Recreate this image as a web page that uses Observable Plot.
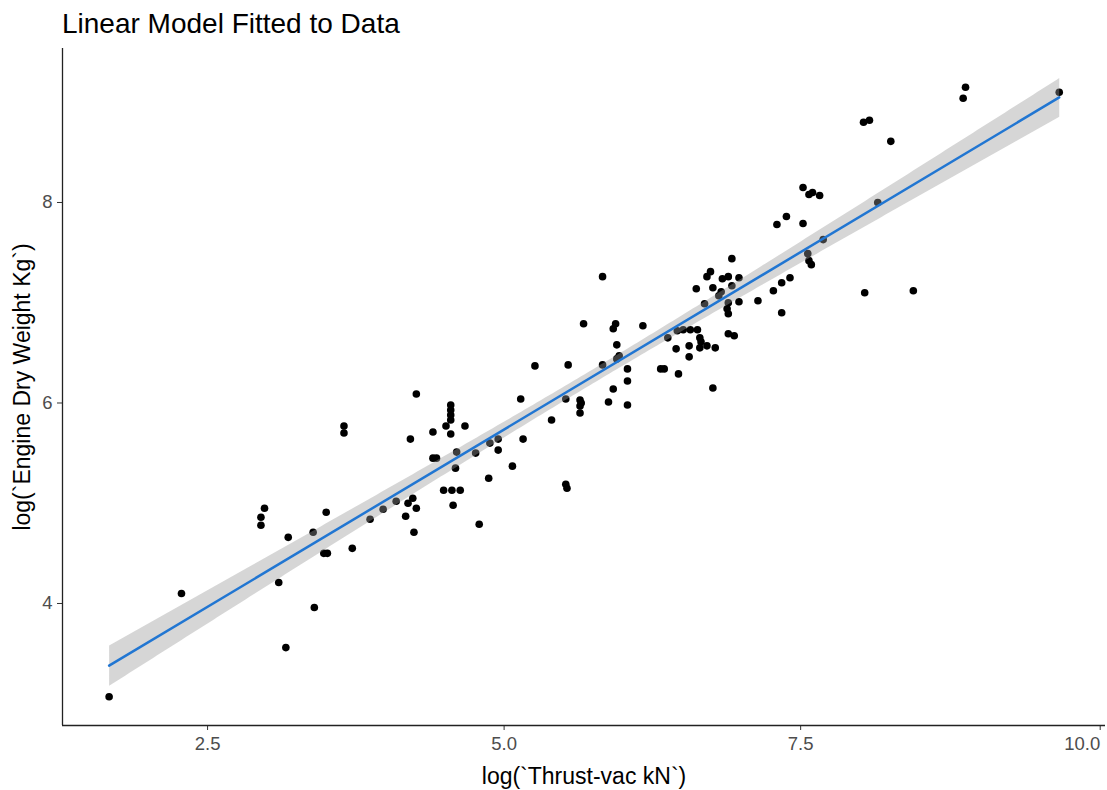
<!DOCTYPE html>
<html>
<head>
<meta charset="utf-8">
<script src="https://cdn.jsdelivr.net/npm/d3@7"></script>
<script src="https://cdn.jsdelivr.net/npm/@observablehq/plot@0.6"></script>
<style>
  html, body { margin: 0; padding: 0; background: #fff; }
  #title { height: 40px; box-sizing: border-box; padding: 4px 0 0 62px; font: 28px/40px "Liberation Sans", Arial, sans-serif; color: #000; white-space: nowrap; }
  g[aria-label="x-axis tick label"] text, g[aria-label="y-axis tick label"] text { fill: #4d4d4d; }
</style>
</head>
<body>
<div id="title">Linear Model Fitted to Data</div>
<div id="chart"></div>
<script>
const titleText = "Linear Model Fitted to Data";
const xLabel = "log(`Thrust-vac kN`)";
const yLabel = "log(`Engine Dry Weight Kg`)";
const xTicks = [2.5, 5.0, 7.5, 10.0];
const yTicks = [4, 6, 8];

const logThrust = [
  1.67, 2.28, 3.10, 3.40, 3.16, 2.98, 2.95, 2.95, 3.50, 3.18,
  3.39, 3.48, 3.51, 3.72, 3.87, 3.98, 4.09, 4.19, 4.23, 4.26,
  4.17, 4.24, 4.26, 3.65, 3.65, 4.55, 4.55, 4.55, 4.55, 4.51,
  4.55, 4.67, 4.40, 4.21, 5.14, 4.40, 4.43, 4.60, 4.59, 4.76,
  4.88, 4.95, 4.95, 5.16, 5.07, 4.87, 4.49, 4.56, 4.63, 4.57,
  4.79, 5.40, 5.52, 5.53, 5.67, 5.94, 5.92, 6.17, 5.95, 5.97,
  5.95, 5.83, 5.54, 5.26, 6.04, 6.04, 5.92, 5.52, 5.64, 5.65,
  5.64, 5.64, 5.88, 6.04, 5.83, 6.38, 6.46, 6.51, 6.57, 6.63,
  6.65, 6.66, 6.65, 6.71, 6.78, 6.56, 6.45, 6.56, 6.32, 6.35,
  6.47, 6.76, 6.89, 6.94, 6.92, 6.74, 6.71, 6.84, 6.89, 6.98,
  6.62, 6.76, 6.92, 6.83, 6.81, 6.69, 6.89, 6.88, 6.89, 6.98,
  7.14, 7.27, 7.34, 7.41, 7.34, 8.89, 8.87, 9.68, 8.03, 8.08,
  8.26, 7.52, 7.57, 7.60, 7.66, 8.15, 7.38, 7.30, 7.52, 7.69,
  7.56, 7.57, 7.59, 8.04, 8.45
];
const logWeight = [
  3.07, 4.10, 4.21, 3.96, 3.56, 4.95, 4.86, 4.78, 4.91, 4.66,
  4.71, 4.50, 4.50, 4.55, 4.84, 4.94, 5.02, 5.00, 5.05, 4.95,
  4.87, 4.71, 6.09, 5.77, 5.70, 5.98, 5.93, 5.88, 5.83, 5.77,
  5.69, 5.77, 5.71, 5.64, 6.04, 5.45, 5.45, 5.51, 5.35, 5.50,
  5.60, 5.64, 5.53, 5.64, 5.37, 5.25, 5.13, 5.13, 5.13, 4.98,
  4.79, 5.83, 5.19, 5.15, 6.79, 6.79, 6.74, 6.77, 6.58, 6.47,
  6.44, 6.38, 6.38, 6.37, 6.34, 6.22, 6.14, 6.04, 6.03, 6.00,
  5.97, 5.90, 6.01, 5.98, 7.26, 6.65, 6.72, 6.73, 6.73, 6.73,
  6.65, 6.61, 6.55, 6.57, 6.55, 6.57, 6.54, 6.46, 6.34, 6.34,
  6.29, 6.15, 6.69, 6.67, 7.44, 7.31, 7.26, 7.24, 7.26, 7.25,
  7.14, 7.15, 7.17, 7.11, 7.07, 6.99, 7.00, 6.94, 6.89, 7.01,
  7.02, 7.12, 7.20, 7.25, 6.90, 9.15, 9.04, 9.10, 8.80, 8.82,
  8.61, 8.15, 8.08, 8.10, 8.07, 8.00, 7.86, 7.78, 7.79, 7.63,
  7.49, 7.42, 7.38, 7.10, 7.12
];

const data = logThrust.map((x, i) => ({x, y: logWeight[i]}));

const xDomain = [1.277, 10.07];
const yDomain = [2.783, 9.536];
const font = '"Liberation Sans", Arial, sans-serif';
const fmt = d3.format(".1f");

const chart = Plot.plot({
  width: 1107,
  height: 750,
  marginTop: 8,
  marginBottom: 65,
  marginLeft: 62,
  marginRight: 2,
  style: {fontFamily: font, background: "#fff", overflow: "visible"},
  x: {domain: xDomain, label: null},
  y: {domain: yDomain, label: null},
  marks: [
    Plot.dot(data, {x: "x", y: "y", r: 3.8, fill: "#000", stroke: "none"}),
    Plot.linearRegressionY(data, {x: "x", y: "y", stroke: "#2176d2", strokeWidth: 2.5, fill: "#999999", fillOpacity: 0.4, ci: 0.95}),
    Plot.axisX({ticks: xTicks.slice(0, -1), tickFormat: fmt, tickSize: 5, tickPadding: 6, fontSize: 18.5, stroke: "#333", label: null}),
    Plot.axisX({ticks: xTicks.slice(-1), tickFormat: fmt, tickSize: 5, tickPadding: 6, fontSize: 18.5, stroke: "#333", textAnchor: "end", dx: 3, label: null}),
    Plot.axisY({ticks: yTicks, tickFormat: d3.format("d"), tickSize: 5, tickPadding: 5, fontSize: 18.5, stroke: "#333", label: null}),
    Plot.ruleY([yDomain[0]], {stroke: "#222", strokeWidth: 1.3}),
    Plot.ruleX([xDomain[0]], {stroke: "#222", strokeWidth: 1.3}),
    Plot.text([xLabel], {frameAnchor: "bottom", dy: 51, lineAnchor: "middle", fontSize: 23, fill: "#000"}),
    Plot.text([yLabel], {frameAnchor: "left", dx: -40, rotate: -90, lineAnchor: "middle", textAnchor: "middle", fontSize: 23, fill: "#000"})
  ]
});
document.getElementById("chart").appendChild(chart);
</script>
</body>
</html>
